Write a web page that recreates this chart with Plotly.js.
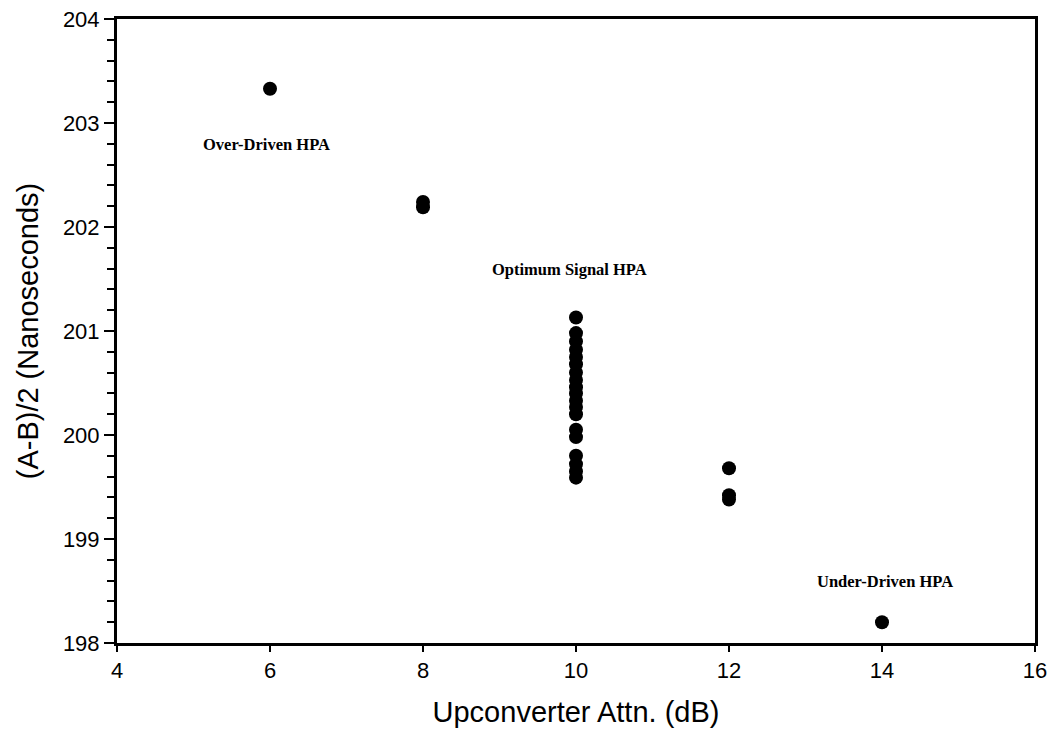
<!DOCTYPE html>
<html>
<head>
<meta charset="utf-8">
<script src="https://cdn.plot.ly/plotly-3.0.1.min.js"></script>
<style>html,body{margin:0;padding:0;background:#fff;}#chart{width:1056px;height:749px;}</style>
</head>
<body>
<div id="chart"></div>
<script>
// Upconverter attenuation (dB)
const attn = [6, 8, 8,
  10, 10, 10, 10, 10, 10, 10, 10, 10, 10, 10, 10, 10, 10, 10, 10, 10, 10, 10,
  12, 12, 12, 14];
// (A-B)/2 in nanoseconds
const delay = [203.33, 202.24, 202.19,
  201.13, 200.98, 200.9, 200.82, 200.75, 200.68, 200.6, 200.53, 200.46, 200.4, 200.33, 200.27, 200.2, 200.05, 199.98, 199.8, 199.72, 199.65, 199.59,
  199.68, 199.42, 199.38, 198.2];

const labelText = ["Over-Driven HPA", "Optimum Signal HPA", "Under-Driven HPA"];
const labelX = [5.96, 9.92, 14.04];
const labelY = [202.79, 201.59, 198.59];

const trace = {
  x: attn, y: delay, type: 'scatter', mode: 'markers',
  marker: {color: '#000', size: 14, line: {width: 0}},
  hoverinfo: 'x+y'
};

const annotations = labelText.map((t, i) => ({
  x: labelX[i], y: labelY[i], xref: 'x', yref: 'y', text: t, showarrow: false,
  font: {family: 'Liberation Serif, Times New Roman, serif', size: 16.5, color: '#000', weight: 'bold'}
}));

const layout = {
  width: 1056, height: 749,
  margin: {l: 117, r: 21, t: 19, b: 106},
  paper_bgcolor: '#fff', plot_bgcolor: '#fff',
  showlegend: false,
  font: {family: 'Liberation Sans, Arial, sans-serif', color: '#000'},
  xaxis: {
    range: [4, 16], dtick: 2, tick0: 4,
    showgrid: false, zeroline: false,
    showline: true, linecolor: '#000', linewidth: 3, mirror: true,
    ticks: 'outside', ticklen: 6, tickwidth: 2, tickcolor: '#000',
    tickfont: {size: 22, color: '#000'},
    title: {text: 'Upconverter Attn. (dB)', font: {size: 29, color: '#000'}, standoff: 20}
  },
  yaxis: {
    range: [198, 204], dtick: 1, tick0: 198,
    showgrid: false, zeroline: false,
    showline: true, linecolor: '#000', linewidth: 3, mirror: true,
    ticks: 'outside', ticklen: 10, tickwidth: 2, tickcolor: '#000',
    minor: {dtick: 0.2, ticks: 'outside', ticklen: 7, tickwidth: 2, tickcolor: '#000', showgrid: false},
    tickfont: {size: 22, color: '#000'},
    title: {text: '(A-B)/2 (Nanoseconds)', font: {size: 29, color: '#000'}, standoff: 16}
  },
  annotations: annotations
};

Plotly.newPlot('chart', [trace], layout, {displayModeBar: false, staticPlot: true});
</script>
</body>
</html>
